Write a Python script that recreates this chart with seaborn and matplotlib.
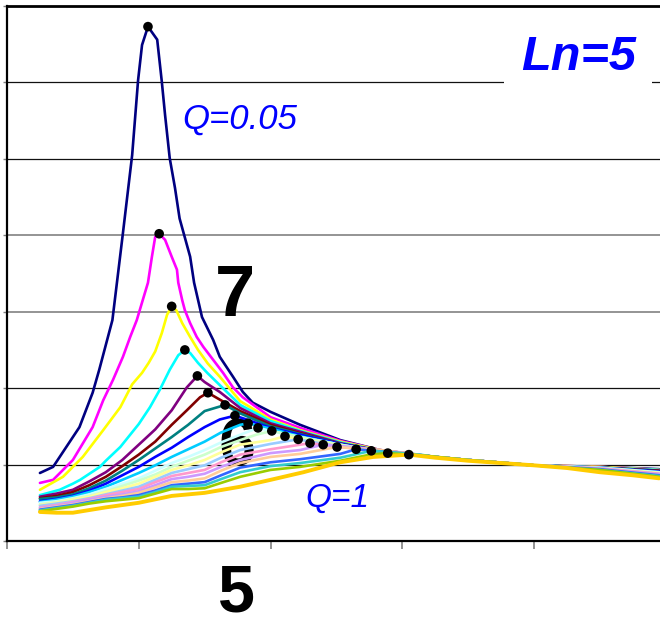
import numpy as np
import pandas as pd
import matplotlib
matplotlib.use("Agg")
import matplotlib.pyplot as plt
import seaborn as sns

# ---------------- data (normalized frequency f, gain M) ----------------
q_values = [0.05, 0.1, 0.15, 0.2, 0.25, 0.3, 0.35, 0.4, 0.45, 0.5,
            0.55, 0.6, 0.65, 0.7, 0.75, 0.8, 0.85, 0.9, 0.95, 1.0]

f_q005 = [0.25, 0.27, 0.29, 0.31, 0.33, 0.34, 0.36, 0.376, 0.39, 0.399, 0.405, 0.414, 0.428, 0.435, 0.44, 0.447, 0.455, 0.462, 0.478, 0.484, 0.496, 0.513, 0.523, 0.543, 0.558, 0.573, 0.60, 0.645, 0.706, 0.766, 0.85, 0.90, 1.0, 1.1, 1.19]
g_q005 = [0.89, 0.97, 1.23, 1.49, 1.94, 2.24, 2.89, 4.03, 5.05, 6.03, 6.49, 6.73, 6.56, 6.01, 5.57, 5.01, 4.62, 4.22, 3.72, 3.38, 2.93, 2.63, 2.41, 2.15, 1.95, 1.81, 1.69, 1.52, 1.32, 1.19, 1.10, 1.06, 0.99, 0.97, 0.94]

f_q010 = [0.25, 0.27, 0.30, 0.33, 0.346, 0.361, 0.376, 0.387, 0.397, 0.406, 0.414, 0.42, 0.425, 0.431, 0.44, 0.45, 0.458, 0.46, 0.466, 0.47, 0.478, 0.488, 0.498, 0.513, 0.528, 0.543, 0.558, 0.60, 0.645, 0.706, 0.766, 0.85, 0.90, 1.0, 1.1, 1.19]
g_q010 = [0.76, 0.80, 1.06, 1.49, 1.84, 2.11, 2.41, 2.67, 2.89, 3.15, 3.38, 3.72, 3.98, 4.02, 3.94, 3.72, 3.55, 3.38, 3.15, 3.02, 2.85, 2.67, 2.54, 2.37, 2.20, 2.01, 1.88, 1.62, 1.48, 1.31, 1.19, 1.10, 1.06, 0.99, 0.97, 0.93]

f_q015 = [0.25, 0.285, 0.30, 0.315, 0.346, 0.372, 0.390, 0.405, 0.415, 0.425, 0.435, 0.443, 0.45, 0.457, 0.466, 0.478, 0.49, 0.505, 0.523, 0.554, 0.60, 0.645, 0.706, 0.766, 0.85, 0.90, 1.0, 1.1, 1.19]
g_q015 = [0.67, 0.84, 0.97, 1.10, 1.45, 1.75, 2.05, 2.20, 2.33, 2.48, 2.72, 2.96, 3.07, 3.02, 2.85, 2.67, 2.50, 2.32, 2.15, 1.83, 1.59, 1.45, 1.30, 1.19, 1.10, 1.06, 0.99, 0.97, 0.93]

f_q020 = [0.25, 0.28, 0.30, 0.311, 0.341, 0.35, 0.372, 0.40, 0.417, 0.432, 0.447, 0.46, 0.47, 0.478, 0.49, 0.504, 0.523, 0.554, 0.60, 0.645, 0.706, 0.766, 0.85, 0.90, 1.0, 1.1, 1.19]
g_q020 = [0.60, 0.67, 0.75, 0.80, 0.97, 1.05, 1.23, 1.53, 1.75, 1.98, 2.24, 2.43, 2.50, 2.46, 2.33, 2.20, 2.04, 1.78, 1.57, 1.44, 1.29, 1.18, 1.10, 1.06, 0.99, 0.96, 0.93]

f_q025 = [0.25, 0.275, 0.30, 0.325, 0.35, 0.375, 0.40, 0.425, 0.45, 0.473, 0.489, 0.50, 0.523, 0.554, 0.60, 0.645, 0.706, 0.766, 0.85, 0.90, 1.0, 1.1, 1.19]
g_q025 = [0.58, 0.62, 0.67, 0.78, 0.90, 1.06, 1.26, 1.46, 1.71, 2.01, 2.16, 2.08, 1.95, 1.74, 1.54, 1.43, 1.28, 1.18, 1.10, 1.06, 0.99, 0.96, 0.92]

f_q030 = [0.25, 0.275, 0.30, 0.325, 0.35, 0.375, 0.40, 0.425, 0.45, 0.473, 0.493, 0.505, 0.523, 0.554, 0.60, 0.645, 0.706, 0.766, 0.85, 0.90, 1.0, 1.1, 1.19]
g_q030 = [0.56, 0.59, 0.64, 0.73, 0.84, 0.98, 1.13, 1.30, 1.52, 1.71, 1.88, 1.94, 1.85, 1.70, 1.52, 1.41, 1.27, 1.18, 1.10, 1.06, 0.99, 0.96, 0.92]

f_q035 = [0.25, 0.275, 0.30, 0.325, 0.35, 0.375, 0.40, 0.425, 0.45, 0.475, 0.50, 0.531, 0.554, 0.60, 0.645, 0.706, 0.766, 0.85, 0.90, 1.0, 1.1, 1.19]
g_q035 = [0.55, 0.57, 0.61, 0.69, 0.79, 0.92, 1.06, 1.21, 1.36, 1.52, 1.70, 1.78, 1.67, 1.50, 1.40, 1.27, 1.18, 1.10, 1.06, 0.99, 0.96, 0.91]

f_q040 = [0.25, 0.275, 0.30, 0.325, 0.35, 0.375, 0.40, 0.425, 0.45, 0.475, 0.50, 0.523, 0.546, 0.56, 0.60, 0.645, 0.706, 0.766, 0.85, 0.90, 1.0, 1.1, 1.19]
g_q040 = [0.52, 0.55, 0.59, 0.66, 0.75, 0.86, 0.97, 1.10, 1.22, 1.36, 1.49, 1.59, 1.64, 1.60, 1.48, 1.39, 1.27, 1.18, 1.10, 1.06, 0.99, 0.96, 0.91]

f_q045 = [0.25, 0.275, 0.30, 0.325, 0.35, 0.375, 0.40, 0.425, 0.45, 0.475, 0.50, 0.525, 0.554, 0.566, 0.60, 0.645, 0.706, 0.766, 0.85, 0.90, 1.0, 1.1, 1.19]
g_q045 = [0.51, 0.54, 0.58, 0.64, 0.71, 0.80, 0.89, 0.99, 1.10, 1.20, 1.30, 1.42, 1.52, 1.54, 1.47, 1.37, 1.26, 1.17, 1.10, 1.06, 0.99, 0.96, 0.90]

f_q050 = [0.25, 0.275, 0.30, 0.325, 0.35, 0.375, 0.40, 0.425, 0.45, 0.475, 0.50, 0.525, 0.554, 0.581, 0.60, 0.645, 0.706, 0.766, 0.85, 0.90, 1.0, 1.1, 1.19]
g_q050 = [0.50, 0.52, 0.56, 0.61, 0.68, 0.75, 0.82, 0.92, 1.02, 1.10, 1.19, 1.29, 1.39, 1.48, 1.44, 1.36, 1.26, 1.17, 1.10, 1.06, 0.99, 0.96, 0.90]

f_q055 = [0.25, 0.275, 0.30, 0.325, 0.35, 0.375, 0.40, 0.425, 0.45, 0.475, 0.50, 0.525, 0.554, 0.578, 0.602, 0.645, 0.706, 0.766, 0.85, 0.90, 1.0, 1.1, 1.19]
g_q055 = [0.48, 0.51, 0.55, 0.59, 0.65, 0.72, 0.79, 0.87, 0.97, 1.05, 1.13, 1.23, 1.32, 1.39, 1.44, 1.36, 1.26, 1.17, 1.10, 1.06, 0.99, 0.95, 0.89]

f_q060 = [0.25, 0.275, 0.30, 0.325, 0.35, 0.375, 0.40, 0.425, 0.45, 0.475, 0.50, 0.525, 0.554, 0.60, 0.622, 0.66, 0.706, 0.766, 0.85, 0.90, 1.0, 1.1, 1.19]
g_q060 = [0.47, 0.50, 0.54, 0.58, 0.64, 0.69, 0.75, 0.84, 0.93, 0.99, 1.06, 1.16, 1.26, 1.32, 1.37, 1.31, 1.25, 1.17, 1.10, 1.06, 0.99, 0.95, 0.89]

f_q065 = [0.25, 0.275, 0.30, 0.325, 0.35, 0.375, 0.40, 0.425, 0.45, 0.475, 0.50, 0.525, 0.554, 0.60, 0.642, 0.675, 0.706, 0.766, 0.85, 0.90, 1.0, 1.1, 1.19]
g_q065 = [0.46, 0.49, 0.52, 0.56, 0.61, 0.66, 0.71, 0.80, 0.89, 0.94, 0.99, 1.09, 1.19, 1.27, 1.33, 1.28, 1.24, 1.17, 1.10, 1.06, 0.99, 0.95, 0.88]

f_q070 = [0.25, 0.275, 0.30, 0.325, 0.35, 0.375, 0.40, 0.425, 0.45, 0.475, 0.50, 0.525, 0.554, 0.60, 0.645, 0.66, 0.706, 0.766, 0.85, 0.90, 1.0, 1.1, 1.19]
g_q070 = [0.44, 0.47, 0.51, 0.55, 0.60, 0.64, 0.68, 0.77, 0.85, 0.89, 0.93, 1.03, 1.13, 1.20, 1.26, 1.28, 1.23, 1.17, 1.10, 1.06, 0.99, 0.95, 0.88]

f_q075 = [0.25, 0.275, 0.30, 0.325, 0.35, 0.375, 0.40, 0.425, 0.45, 0.475, 0.50, 0.525, 0.554, 0.60, 0.645, 0.68, 0.736, 0.797, 0.85, 0.90, 1.0, 1.1, 1.19]
g_q075 = [0.43, 0.46, 0.50, 0.54, 0.58, 0.61, 0.65, 0.73, 0.81, 0.84, 0.88, 0.97, 1.06, 1.15, 1.19, 1.26, 1.22, 1.16, 1.10, 1.06, 0.99, 0.94, 0.87]

f_q080 = [0.25, 0.275, 0.30, 0.325, 0.35, 0.375, 0.40, 0.425, 0.45, 0.475, 0.50, 0.525, 0.554, 0.60, 0.645, 0.701, 0.766, 0.85, 0.90, 1.0, 1.1, 1.19]
g_q080 = [0.42, 0.45, 0.48, 0.52, 0.56, 0.59, 0.63, 0.70, 0.77, 0.79, 0.82, 0.92, 1.02, 1.10, 1.14, 1.23, 1.19, 1.10, 1.06, 0.99, 0.94, 0.86]

f_q085 = [0.25, 0.275, 0.30, 0.325, 0.35, 0.375, 0.40, 0.425, 0.45, 0.475, 0.50, 0.525, 0.554, 0.60, 0.645, 0.706, 0.730, 0.797, 0.85, 0.90, 1.0, 1.1, 1.19]
g_q085 = [0.41, 0.44, 0.47, 0.51, 0.55, 0.57, 0.60, 0.66, 0.73, 0.75, 0.77, 0.86, 0.96, 1.03, 1.07, 1.14, 1.20, 1.15, 1.10, 1.06, 0.99, 0.94, 0.86]

f_q090 = [0.25, 0.275, 0.30, 0.325, 0.35, 0.375, 0.40, 0.425, 0.45, 0.475, 0.50, 0.525, 0.554, 0.60, 0.645, 0.706, 0.753, 0.827, 0.85, 0.90, 1.0, 1.1, 1.19]
g_q090 = [0.40, 0.43, 0.46, 0.50, 0.54, 0.56, 0.58, 0.64, 0.71, 0.72, 0.73, 0.81, 0.90, 0.98, 1.02, 1.09, 1.18, 1.13, 1.10, 1.06, 0.99, 0.93, 0.85]

f_q095 = [0.25, 0.275, 0.30, 0.325, 0.35, 0.375, 0.40, 0.425, 0.45, 0.475, 0.50, 0.525, 0.554, 0.60, 0.645, 0.706, 0.751, 0.778, 0.842, 0.90, 1.0, 1.1, 1.19]
g_q095 = [0.39, 0.42, 0.45, 0.49, 0.52, 0.54, 0.56, 0.62, 0.68, 0.68, 0.69, 0.76, 0.84, 0.93, 0.97, 1.05, 1.13, 1.15, 1.11, 1.06, 0.99, 0.93, 0.84]

f_q100 = [0.25, 0.275, 0.30, 0.35, 0.40, 0.45, 0.50, 0.554, 0.60, 0.65, 0.706, 0.756, 0.81, 0.85, 0.90, 0.95, 1.0, 1.05, 1.1, 1.15, 1.19]
g_q100 = [0.38, 0.37, 0.37, 0.44, 0.50, 0.59, 0.63, 0.71, 0.80, 0.90, 1.03, 1.10, 1.13, 1.09, 1.05, 1.02, 0.99, 0.955, 0.90, 0.86, 0.82]

curve_f = [f_q005, f_q010, f_q015, f_q020, f_q025, f_q030, f_q035, f_q040, f_q045, f_q050,
           f_q055, f_q060, f_q065, f_q070, f_q075, f_q080, f_q085, f_q090, f_q095, f_q100]
curve_g = [g_q005, g_q010, g_q015, g_q020, g_q025, g_q030, g_q035, g_q040, g_q045, g_q050,
           g_q055, g_q060, g_q065, g_q070, g_q075, g_q080, g_q085, g_q090, g_q095, g_q100]

# Excel default series colours
series_colors = ["#000080", "#FF00FF", "#FFFF00", "#00FFFF", "#800080", "#800000",
                 "#008080", "#0000FF", "#00CCFF", "#CCFFFF", "#CCFFCC", "#FFFF99",
                 "#99CCFF", "#FF99CC", "#CC99FF", "#FFCC99", "#3366FF", "#33CCCC",
                 "#99CC00", "#FFCC00"]

x_ticks = [0.2, 0.4, 0.6, 0.8, 1.0]
y_ticks = [0, 1, 2, 3, 4, 5, 6, 7]

# ---------------- build long table ----------------
rows = []
for q, fs, gs in zip(q_values, curve_f, curve_g):
    for i, (fv, gv) in enumerate(zip(fs, gs)):
        rows.append({"Q": q, "f": fv, "M": gv, "i": i})
df = pd.DataFrame(rows)

peaks = df.loc[df.groupby("Q")["M"].idxmax()].sort_values("Q")

# ---------------- plot ----------------
sns.set_style("white")
plt.rcParams["font.family"] = ["Liberation Sans", "DejaVu Sans"]

W, H = 660, 625
fig = plt.figure(figsize=(W / 100, H / 100), dpi=100)
ax = fig.add_axes([7 / W, (H - 541) / H, (W - 7) / W, 535 / H])

ax.set_xlim(0.2, 0.2 + 653 / 658.75)
ax.set_ylim(0, 7)

# the "6" sits behind the curves
ax.text(237 / W, 1 - 466 / H, "6", fontsize=48, fontweight="bold",
        ha="center", va="baseline", color="black", zorder=1,
        transform=fig.transFigure)

sns.lineplot(data=df, x="f", y="M", hue="Q", units="Q", estimator=None,
             sort=False, palette=series_colors, hue_order=q_values,
             linewidth=1.9, legend=False, ax=ax, zorder=2)
lines = ax.get_lines()
if lines:
    lines[-1].set_linewidth(2.8)

sns.scatterplot(data=peaks, x="f", y="M", color="black", s=48,
                edgecolor="none", ax=ax, zorder=5, legend=False)

# grid / axes styling
ax.set_xticks(x_ticks)
ax.set_yticks(y_ticks)
ax.set_xticklabels([])
ax.set_yticklabels([])
ax.set_xlabel("")
ax.set_ylabel("")
ax.set_axisbelow(True)
ax.yaxis.grid(True, linewidth=1.0)
ax.xaxis.grid(False)
grid_cols = {1: "#111111", 2: "#111111", 3: "#777777", 4: "#777777", 5: "#111111", 6: "#111111"}
for val, gl in zip(y_ticks, ax.get_ygridlines()):
    if val in grid_cols:
        gl.set_color(grid_cols[val])
        gl.set_linewidth(1.1 if val in (3, 4) else 0.9)
    else:
        gl.set_visible(False)

ax.tick_params(axis="x", which="both", direction="out", length=6, width=1.2,
               color="#808080", bottom=True, top=False)
ax.tick_params(axis="y", which="both", direction="out", length=3, width=1.0,
               color="#808080", left=True, right=False)

for side in ["left", "bottom"]:
    ax.spines[side].set_color("black")
    ax.spines[side].set_linewidth(1.6)
ax.spines["top"].set_color("black")
ax.spines["top"].set_linewidth(2.0)
ax.spines["right"].set_visible(False)

# labels
ax.text(182 / W, 1 - 129 / H, "Q=0.05", fontsize=25, style="italic",
        color="#0000FF", ha="left", va="baseline", transform=fig.transFigure, zorder=6)
ax.text(305 / W, 1 - 507 / H, "Q=1", fontsize=24, style="italic",
        color="#0000FF", ha="left", va="baseline", transform=fig.transFigure, zorder=6)
ax.text(521 / W, 1 - 70 / H, "Ln=5", fontsize=35, style="italic", fontweight="bold",
        color="#0000FF", ha="left", va="baseline", transform=fig.transFigure,
        zorder=1.5, bbox=dict(facecolor="white", edgecolor="none", pad=12))
ax.text(235 / W, 1 - 316 / H, "7", fontsize=52, fontweight="bold",
        color="black", ha="center", va="baseline", transform=fig.transFigure, zorder=6)
fig.text(236 / W, 1 - 611 / H, "5", fontsize=48, fontweight="bold",
         color="black", ha="center", va="baseline")

fig.savefig("out.png", dpi=100, facecolor="white")
